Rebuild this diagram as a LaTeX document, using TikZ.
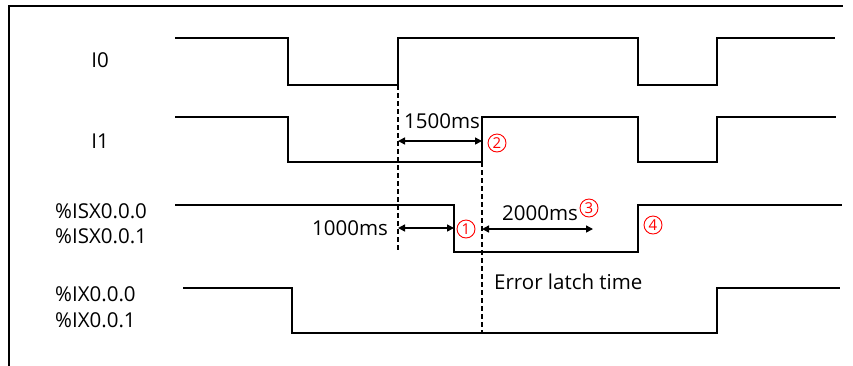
\documentclass[tikz,border=0pt]{standalone}
\usepackage{fontspec}
\setmainfont{Open Sans}
\usetikzlibrary{arrows.meta}
\begin{document}
\begin{tikzpicture}[x=1pt,y=-1pt,
  sig/.style={line width=2.6pt, line join=miter},
  guide/.style={line width=1.3pt, dash pattern=on 5pt off 3pt},
  dim/.style={line width=1.5pt, {Triangle[length=7pt,width=7pt]}-{Triangle[length=7pt,width=7pt]}},
  lbl/.style={font=\fontsize{20.5}{24}\selectfont, inner sep=0pt},
  num/.style={circle, draw=red, line width=0.9pt, minimum size=18pt, inner sep=0pt,
              text=red, font=\fontsize{15}{16}\selectfont}]
\useasboundingbox (0,0) rectangle (853,365);
% frame
\coordinate (fb) at (9,366);
\coordinate (fc) at (9,6);
\coordinate (fr) at (843,6);
\draw[line width=2pt] (fb) -- (fc) -- (fr);
% signals
\draw[sig] (175,38) -- (288,38) -- (288,85) -- (398,85) coordinate (i0rise) -- (398,38) -- (638,38) -- (638,85) -- (717,85) -- (717,38) -- (835,38);
\draw[sig] (175,117) -- (288,117) -- (288,162) -- (482,162) coordinate (i1rise) -- (482,117) -- (638,117) -- (638,162) -- (717,162) -- (717,117) -- (836,117);
\draw[sig] (175,205) -- (454,205) -- (454,252) coordinate (isxfall) -- (638,252) -- (638,205) -- (842,205);
\draw[sig] (183,288) -- (292,288) -- (292,333) -- (482,333) coordinate (ixmid) -- (717,333) -- (717,288) -- (840,288);
% guides
\coordinate (g1end) at (398,252);
\draw[guide] (i0rise) -- (g1end);
\draw[guide] (i1rise) -- (ixmid);
% dimension arrows
\coordinate (a1s) at (398,141);
\coordinate (a1e) at (482,141);
\coordinate (a2s) at (398,228);
\coordinate (a2e) at (454,228);
\coordinate (a3s) at (482,229);
\coordinate (a3e) at (593,229);
\draw[dim] (a1s) -- (a1e);
\draw[dim] (a2s) -- (a2e);
\draw[dim] (a3s) -- (a3e);
% labels
\node[lbl] (l0) at (100,60) {I0};
\node[lbl] (l1) at (100,141) {I1};
\node[lbl, anchor=west] (l2a) at (55,211) {\%ISX0.0.0};
\node[lbl, anchor=west] (l2b) at (55,236) {\%ISX0.0.1};
\node[lbl, anchor=west] (l3a) at (55,294) {\%IX0.0.0};
\node[lbl, anchor=west] (l3b) at (55,320) {\%IX0.0.1};
\node[lbl] (t1500) at (442,121) {1500ms};
\node[lbl] (t1000) at (350,228) {1000ms};
\node[lbl] (t2000) at (540,213) {2000ms};
\node[lbl, anchor=west] (elt) at (494,282) {Error latch time};
\node[num] (n1) at (466,229) {1};
\node[num] (n2) at (497,143) {2};
\node[num] (n3) at (589,208) {3};
\node[num] (n4) at (653,225) {4};
\end{tikzpicture}
\end{document}
